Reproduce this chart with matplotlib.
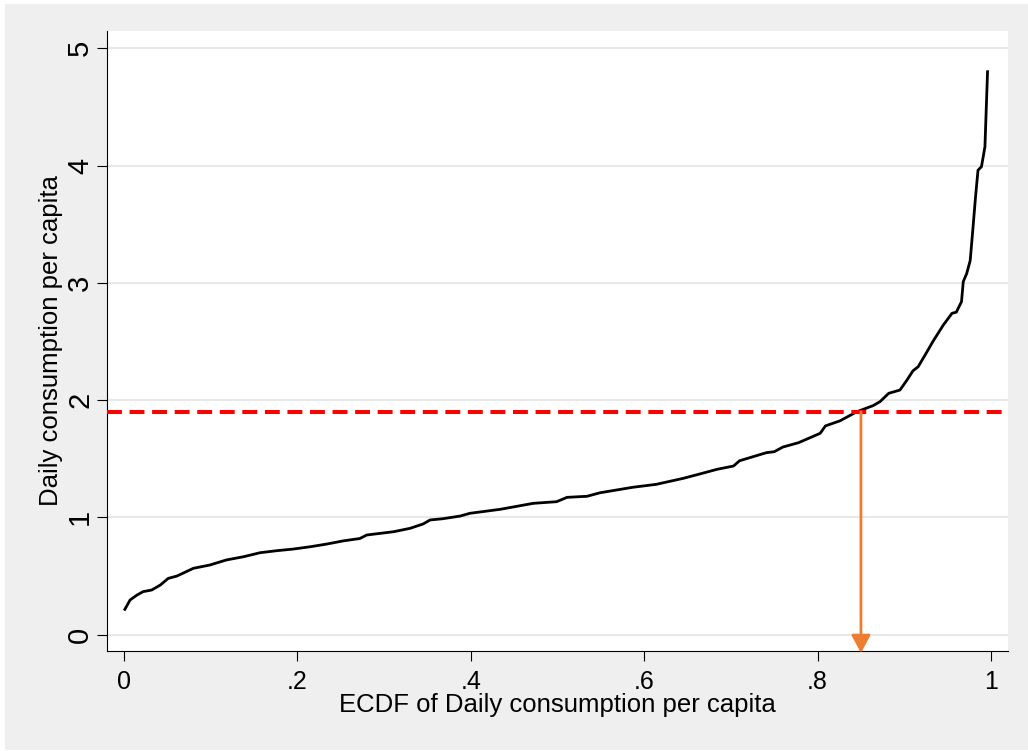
import numpy as np
import matplotlib
matplotlib.use("Agg")
import matplotlib.pyplot as plt
from matplotlib.patches import Rectangle

# quantile curve (ECDF, consumption)
ecdf_x = [0.001, 0.007, 0.015, 0.022, 0.032, 0.042, 0.051, 0.061, 0.080, 0.099,
          0.118, 0.138, 0.157, 0.176, 0.195, 0.215, 0.234, 0.253, 0.272, 0.280,
          0.311, 0.330, 0.345, 0.353, 0.368, 0.388, 0.399, 0.434, 0.472, 0.499,
          0.511, 0.534, 0.549, 0.587, 0.614, 0.645, 0.664, 0.684, 0.703, 0.710,
          0.741, 0.750, 0.760, 0.778, 0.803, 0.809, 0.826, 0.845, 0.864, 0.872,
          0.882, 0.895, 0.903, 0.910, 0.916, 0.926, 0.933, 0.945, 0.955, 0.960,
          0.966, 0.968, 0.972, 0.976, 0.979, 0.982, 0.985, 0.989, 0.993, 0.996]
consumption = [0.216, 0.296, 0.338, 0.367, 0.381, 0.424, 0.480, 0.500, 0.566, 0.594,
               0.637, 0.665, 0.699, 0.716, 0.730, 0.750, 0.773, 0.800, 0.820, 0.850,
               0.878, 0.907, 0.944, 0.978, 0.989, 1.012, 1.035, 1.069, 1.120, 1.134,
               1.171, 1.180, 1.210, 1.257, 1.282, 1.333, 1.370, 1.410, 1.438, 1.483,
               1.552, 1.560, 1.600, 1.637, 1.717, 1.780, 1.824, 1.900, 1.953, 1.987,
               2.058, 2.086, 2.170, 2.250, 2.285, 2.410, 2.500, 2.640, 2.740, 2.750,
               2.840, 3.010, 3.080, 3.190, 3.450, 3.720, 3.960, 3.990, 4.160, 4.800]

threshold = 1.9   # poverty line (red dashed)
share_below = 0.85  # where the curve crosses the line

x_ticks = [0, 0.2, 0.4, 0.6, 0.8, 1]
x_ticklabels = ['0', '.2', '.4', '.6', '.8', '1']
y_ticks = [0, 1, 2, 3, 4, 5]

plt.rcParams['font.family'] = ['Liberation Sans', 'DejaVu Sans']

fig = plt.figure(figsize=(10.28, 7.51), dpi=100)
fig.patch.set_facecolor('white')
fig.patches.append(Rectangle((5/1028, 1/751), 1 - 5/1028, 1 - 5/751,
                             transform=fig.transFigure, facecolor='#efefef',
                             edgecolor='none', zorder=-10))

ax = fig.add_axes([107/1028, 100/751, 901/1028, 620/751])
ax.set_facecolor('white')

ax.plot(ecdf_x, consumption, color='black', lw=2, zorder=3)
ax.axhline(threshold, color='#ff0000', lw=2.9, ls=(0, (3.7, 1.9)), zorder=4)
ax.annotate('', xy=(share_below, -0.156), xytext=(share_below, threshold),
            xycoords='data', annotation_clip=False,
            arrowprops=dict(arrowstyle='-|>,head_width=0.29,head_length=0.54',
                            mutation_scale=20, color='#ed7d31', lw=2,
                            shrinkA=0, shrinkB=0), zorder=5)

ax.set_xlim(-0.0196, 1.0196)
ax.set_ylim(-0.139, 5.147)
ax.set_xticks(x_ticks)
ax.set_xticklabels(x_ticklabels)
ax.set_yticks(y_ticks)
ax.set_yticklabels([str(v) for v in y_ticks], rotation=90, va='center')

ax.grid(axis='y', color='#e8e8e8', lw=1.5)
ax.set_axisbelow(True)
for s in ['top', 'right']:
    ax.spines[s].set_visible(False)
for s in ['left', 'bottom']:
    ax.spines[s].set_linewidth(0.8)
    ax.spines[s].set_color('black')

ax.tick_params(axis='x', length=7.2, width=0.8, pad=6.5, labelsize=18)
ax.tick_params(axis='y', length=7.2, width=0.8, pad=2, labelsize=21)

ax.set_xlabel('ECDF of Daily consumption per capita', fontsize=18.5)
ax.set_ylabel('Daily consumption per capita', fontsize=18.5)
ax.xaxis.set_label_coords(0.5, -0.0677)
ax.yaxis.set_label_coords(-0.0488, 0.5)

fig.savefig('out.png', dpi=100, facecolor=fig.get_facecolor())
